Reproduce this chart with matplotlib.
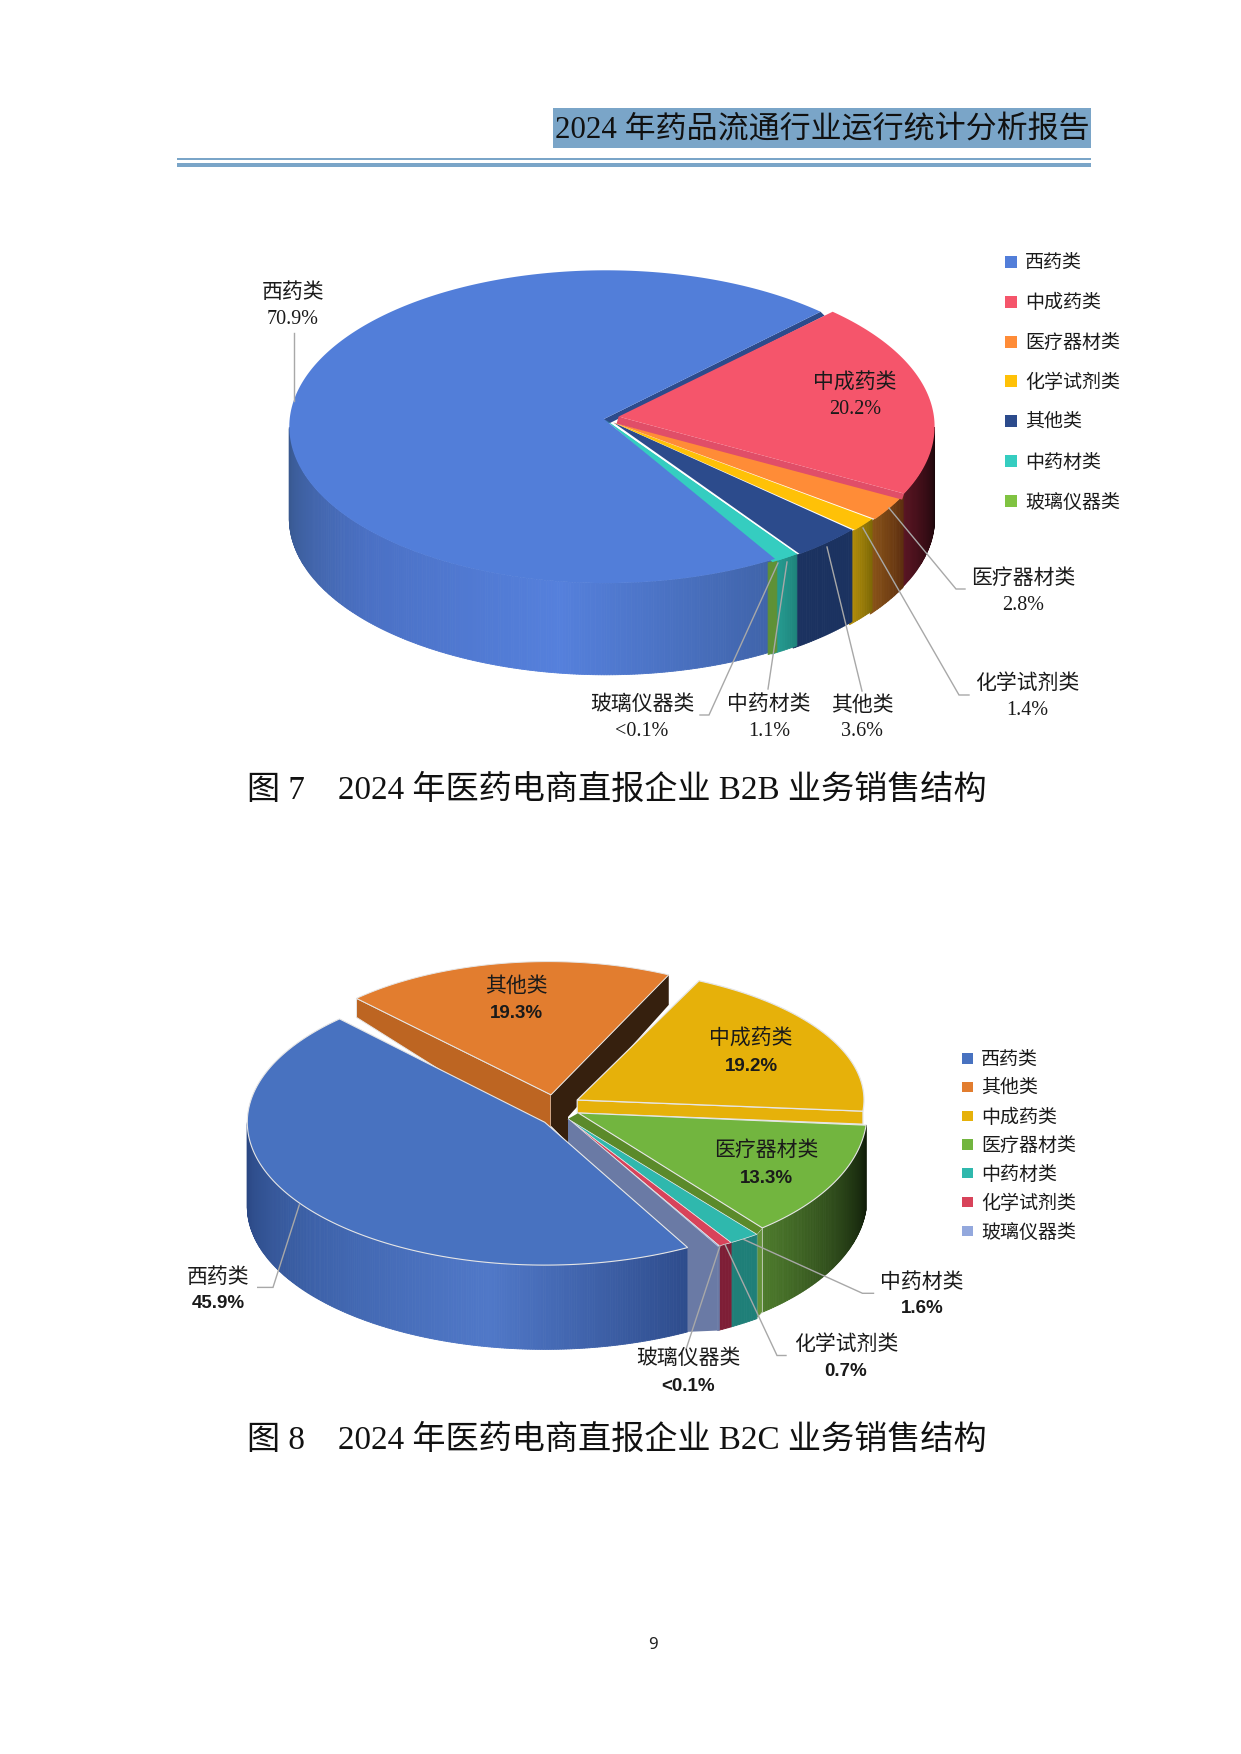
import numpy as np
import matplotlib
matplotlib.use('Agg')
import matplotlib.pyplot as plt
from matplotlib.collections import PolyCollection
from matplotlib.colors import to_rgb
from matplotlib.patches import Polygon, Rectangle

FONT = ['Liberation Serif', 'Noto Sans CJK SC']
FONT_B = ['Liberation Sans', 'Noto Sans CJK SC']
plt.rcParams['font.family'] = ['Noto Sans CJK SC', 'DejaVu Sans']

# figure 7, B2B
b2b_labels = ['西药类', '中成药类', '医疗器材类', '化学试剂类', '其他类', '中药材类', '玻璃仪器类']
b2b_values = [70.9, 20.2, 2.8, 1.4, 3.6, 1.1, 0.1]
b2b_text = ['70.9%', '20.2%', '2.8%', '1.4%', '3.6%', '1.1%', '<0.1%']

# figure 8, B2C
b2c_labels = ['西药类', '其他类', '中成药类', '医疗器材类', '中药材类', '化学试剂类', '玻璃仪器类']
b2c_values = [45.9, 19.3, 19.2, 13.3, 1.6, 0.7, 0.1]
b2c_text = ['45.9%', '19.3%', '19.2%', '13.3%', '1.6%', '0.7%', '<0.1%']

b2b_colors = ['#527ed9', '#f5556b', '#ff8c37', '#ffc107', '#2c4b8c', '#35cdc0', '#80c342']
b2c_colors = ['#4872c0', '#e27d2f', '#e6b10a', '#72b53f', '#2fb8ad', '#d8435a', '#93a8dd']

# wall colours, left to right
b2b_walls = [['#38588f', '#4a70c4', '#5580dc', '#3f63a8'], ['#5a1422', '#140508'], ['#8a5418', '#5e2f10'],
             ['#b58f0a', '#7f6a06'], ['#1b3260', '#1b3260'], ['#26a096', '#1f857c'], ['#5f9136', '#5f9136']]
b2c_walls = [['#2a4782', '#3d62aa', '#5078c8', '#2e4c8c'], None, None, ['#4d7a2c', '#0e1a08'],
             ['#1f7f78', '#1f7f78'], ['#7e1e36', '#7e1e36'], ['#6a7aa5', '#6a7aa5']]

LINE = '#a8a8a8'
TXT = 2.5  # the CJK font sits a little high on va='center'


def spans(values, start):
    # clockwise angles of every slice
    per = 360.0 / sum(values)
    out = []
    t = start
    for v in values:
        out.append((t, t - v * per))
        t = t - v * per
    return out


def rim(c, a, b, t):
    t = np.radians(t)
    return np.column_stack([c[0] + a * np.cos(t), c[1] - b * np.sin(t)])


def top(ax, apex, c, a, b, t0, t1, color, edge='none', lw=0):
    n = max(int(abs(t0 - t1)), 2) + 1
    pts = np.vstack([[apex], rim(c, a, b, np.linspace(t0, t1, n))])
    ax.add_patch(Polygon(pts, closed=True, fc=color, ec=edge, lw=lw))


def wall(ax, c, a, b, t0, t1, depth, stops):
    th = np.linspace(t0, t1, max(int(abs(t0 - t1)) * 2, 2) + 1)
    th = th[np.sin(np.radians(th)) <= 0.001]
    if len(th) < 2:
        return
    pts = rim(c, a, b, th)
    polys = []
    cols = []
    xs = np.linspace(0, 1, len(stops))
    rgb = np.array([to_rgb(s) for s in stops])
    for i in range(len(th) - 1):
        p, q = pts[i], pts[i + 1]
        polys.append([p, q, q + [0, depth], p + [0, depth]])
        u = 1 - i / (len(th) - 2) if len(th) > 2 else 0.5
        cols.append([np.interp(u, xs, rgb[:, k]) for k in range(3)])
    ax.add_collection(PolyCollection(polys, facecolors=cols, edgecolors=cols, linewidths=0.6))


def poly(ax, pts, color, edge='none', lw=0):
    ax.add_patch(Polygon(np.array(pts), closed=True, fc=color, ec=edge, lw=lw))


def leader(ax, xs, ys):
    ax.plot(xs, ys, color=LINE, lw=1.0, zorder=5, solid_joinstyle='miter')


def label(ax, x, y1, y2, name, pct, size=15, bold=False):
    ax.text(x, y1 + TXT, name, ha='center', va='center', fontsize=size, family=FONT, color='#1a1a1a', zorder=6)
    if bold:
        ax.text(x, y2 + TXT, pct, ha='center', va='center', fontsize=13.5, family=FONT_B, weight='bold',
                color='#1a1a1a', zorder=6)
    else:
        ax.text(x, y2 + TXT, pct, ha='center', va='center', fontsize=14.5, family=FONT, color='#1a1a1a', zorder=6)


def legend(ax, x, ys, box, tx, names, colors, size):
    for y, n, col in zip(ys, names, colors):
        ax.add_patch(Rectangle((x, y - box / 2 + 1), box, box, fc=col, ec='none'))
        ax.text(tx, y + TXT, n, ha='left', va='center', fontsize=size, family=FONT, color='#1a1a1a')


fig = plt.figure(figsize=(12.41, 17.54), dpi=100)
ax = fig.add_axes([0, 0, 1, 1])
ax.set_xlim(0, 1241)
ax.set_ylim(1754, 0)
ax.axis('off')

# page header
ax.add_patch(Rectangle((553, 107.5), 538, 40, fc='#7aa5c8', ec='none'))
ax.text(1090, 131, '2024 年药品流通行业运行统计分析报告', ha='right', va='center', fontsize=22.3,
        family=FONT, color='#111111')
ax.add_patch(Rectangle((177, 158), 914, 2, fc='#7aa5c8', ec='none'))
ax.add_patch(Rectangle((177, 162.5), 914, 4, fc='#7aa5c8', ec='none'))

# ---- figure 7
A1, B1, D1 = 316.6, 156.4, 91.7
sp = spans(b2b_values, 302.3)
c_blue, ap_blue = (605.9, 426.7), (604, 419)
c_red, ap_red = (618, 426.7), (618.6, 416.6)
ap_rest = (613.5, 422.6)
ap_thin = (605, 419.5)
centers = [c_blue, c_red, (617, 428.5), (614, 428.5), (611, 428.5), (608, 428.5), (606, 428.5)]
apexes = [ap_blue, ap_red, ap_rest, ap_rest, ap_rest, ap_thin, ap_thin]

wall(ax, centers[0], A1, B1, sp[0][0], sp[0][1], D1, b2b_walls[0])
# each wall runs a little past its left end, the next one covers that
for i in range(1, len(b2b_values)):
    wall(ax, centers[i], A1, B1, sp[i][0], sp[i][1] - 1.5, D1, b2b_walls[i])

# teal backing under the blue top and the teal slice, no bare page along that edge
top(ax, apexes[5], centers[5], A1, B1, sp[5][0], sp[6][1] - 1.0, b2b_colors[5])
tip = rim(c_blue, A1, B1, sp[0][1])[0]
poly(ax, [ap_blue, tip, tip + [4, 4], np.add(ap_blue, [0, 7])], b2b_colors[4])
top(ax, ap_blue, c_blue, A1, B1, sp[0][0], sp[0][1], b2b_colors[0])
for i in [5, 4, 3, 2]:
    top(ax, apexes[i], centers[i], A1, B1, sp[i][0], sp[i][1], b2b_colors[i])
tip = rim(c_red, A1, B1, sp[1][1])[0]
poly(ax, [ap_red, tip, tip + [-2, 6], np.add(ap_red, [-2, 7])], '#e04e68')
top(ax, ap_red, c_red, A1, B1, sp[1][0], sp[1][1], b2b_colors[1])

leader(ax, [294, 294], [333, 401])
leader(ax, [889, 956, 965], [508, 589, 589])
leader(ax, [863, 959, 969], [528, 695, 695])
leader(ax, [827, 862], [547, 691])
leader(ax, [787, 768], [562, 689])
leader(ax, [778, 709, 700], [563, 715, 715])

label(ax, 293, 291, 317, b2b_labels[0], b2b_text[0])
label(ax, 855, 381, 407, b2b_labels[1], b2b_text[1])
label(ax, 1023, 577, 603, b2b_labels[2], b2b_text[2])
label(ax, 1027, 682, 708, b2b_labels[3], b2b_text[3])
label(ax, 862, 703, 729, b2b_labels[4], b2b_text[4])
label(ax, 769, 703, 729, b2b_labels[5], b2b_text[5])
label(ax, 642, 703, 729, b2b_labels[6], b2b_text[6])

legend(ax, 1005, [261, 300.5, 340.5, 380, 420, 460, 500], 12, 1025, b2b_labels, b2b_colors, 13.7)
ax.text(247, 790, '图 7    2024 年医药电商直报企业 B2B 业务销售结构', ha='left', va='center', fontsize=23.9,
        family=FONT, color='#111111')

# ---- figure 8
D2 = 84.3
EDGE = '#e6e6e6'
sp = spans(b2c_values, 298.7)
c_b, A_b, B_b = (544.8, 1122.3), 297.5, 142.8
c_o, A_o, B_o = (551, 1094.8), 277.6, 133.2
ap_g, c_g, A_g, B_g = (577.2, 1100), (572, 1100), 292, 132.4
ap_v, c_v, A_v, B_v = (578.4, 1113), (601, 1113), 266, 144.5
c_s, A_s, B_s = (568, 1118.9), 311.5, 145.2

# orange slice and its two cut faces
co_rim = (c_o[0] - 3, c_o[1])
tl = rim(co_rim, A_o, B_o, sp[1][0])[0]
tr = rim(co_rim, A_o, B_o, sp[1][1])[0]
poly(ax, [tl, c_o, np.add(c_o, [0, 45]), tl + [0, 19]], '#bd6522', EDGE, 0.7)
poly(ax, [tr, tr + [0, 30], [c_s[0], c_s[1] - 2], [c_s[0], c_s[1] + 24], [c_o[0], c_o[1] + 31], c_o], '#36200e')
top(ax, c_o, co_rim, A_o, B_o, sp[1][0], sp[1][1], b2c_colors[1], EDGE, 0.7)

# gold slice
tr = rim(c_g, A_g, B_g, sp[2][1])[0]
poly(ax, [ap_g, tr, tr + [0, 13], np.add(ap_g, [0, 13])], b2c_colors[2], EDGE, 0.9)
top(ax, ap_g, c_g, A_g, B_g, sp[2][0], sp[2][1], b2c_colors[2], EDGE, 0.9)

# green slice, outer wall first
wall(ax, c_v, A_v, B_v, sp[3][0], sp[3][1], D2, b2c_walls[3])
tv = rim(c_v, A_v, B_v, sp[3][1])[0]
ts = rim(c_s, A_s, B_s, sp[4][0])[0]
poly(ax, [tv, ts, ts + [0, D2], tv + [0, D2]], '#64923a', EDGE, 0.5)
poly(ax, [ap_v, tv, ts, c_s], '#5b8a2a')
top(ax, ap_v, c_v, A_v, B_v, sp[3][0], sp[3][1], b2c_colors[3], EDGE, 0.8)

# thin slices at the front
for i in [4, 5, 6]:
    wall(ax, c_s, A_s, B_s, sp[i][0], sp[i][1], D2, b2c_walls[i])
    top(ax, c_s, c_s, A_s, B_s, sp[i][0], sp[i][1], b2c_colors[i], EDGE, 0.5)

# blue slice with its wall and the grey cut face beside it
wall(ax, c_b, A_b, B_b, sp[0][0], sp[0][1], D2, b2c_walls[0])
tb = rim(c_b, A_b, B_b, sp[0][0])[0]
tg = rim(c_s, A_s, B_s, sp[6][1])[0]
k = (c_s[0] - c_b[0]) / (tb[0] - c_b[0])
inner = np.add(c_b, k * (tb - c_b))
poly(ax, [c_s, tg, tg + [0, D2], tb + [0, D2], tb, inner], b2c_walls[6][0])
top(ax, c_b, c_b, A_b, B_b, sp[0][0], sp[0][1], b2c_colors[0], EDGE, 0.8)

leader(ax, [299.3, 273, 257.7], [1204.9, 1287.4, 1287.4])
leader(ax, [743.4, 862.5, 873.5], [1239.3, 1293.3, 1293.3])
leader(ax, [725, 777, 786], [1244.4, 1355.5, 1355.5])
leader(ax, [720, 686.6], [1246, 1347.6])

label(ax, 218, 1275.4, 1301, b2c_labels[0], b2c_text[0], bold=True)
label(ax, 516, 984, 1010.5, b2c_labels[1], b2c_text[1], bold=True)
label(ax, 751, 1037, 1064, b2c_labels[2], b2c_text[2], bold=True)
label(ax, 766.6, 1149, 1175.6, b2c_labels[3], b2c_text[3], bold=True)
label(ax, 921.8, 1280.6, 1306.4, b2c_labels[4], b2c_text[4], bold=True)
label(ax, 846, 1342.5, 1369, b2c_labels[5], b2c_text[5], bold=True)
label(ax, 688.4, 1357, 1383.7, b2c_labels[6], b2c_text[6], bold=True)

legend(ax, 962, [1057.6, 1086, 1115, 1143.6, 1172, 1201, 1230], 10.5, 981, b2c_labels, b2c_colors, 13.7)
ax.text(247, 1440, '图 8    2024 年医药电商直报企业 B2C 业务销售结构', ha='left', va='center', fontsize=23.9,
        family=FONT, color='#111111')

ax.text(653, 1645, '9', ha='center', va='center', fontsize=12, family='Noto Sans', color='#222222')

fig.savefig('out.png', dpi=100)
